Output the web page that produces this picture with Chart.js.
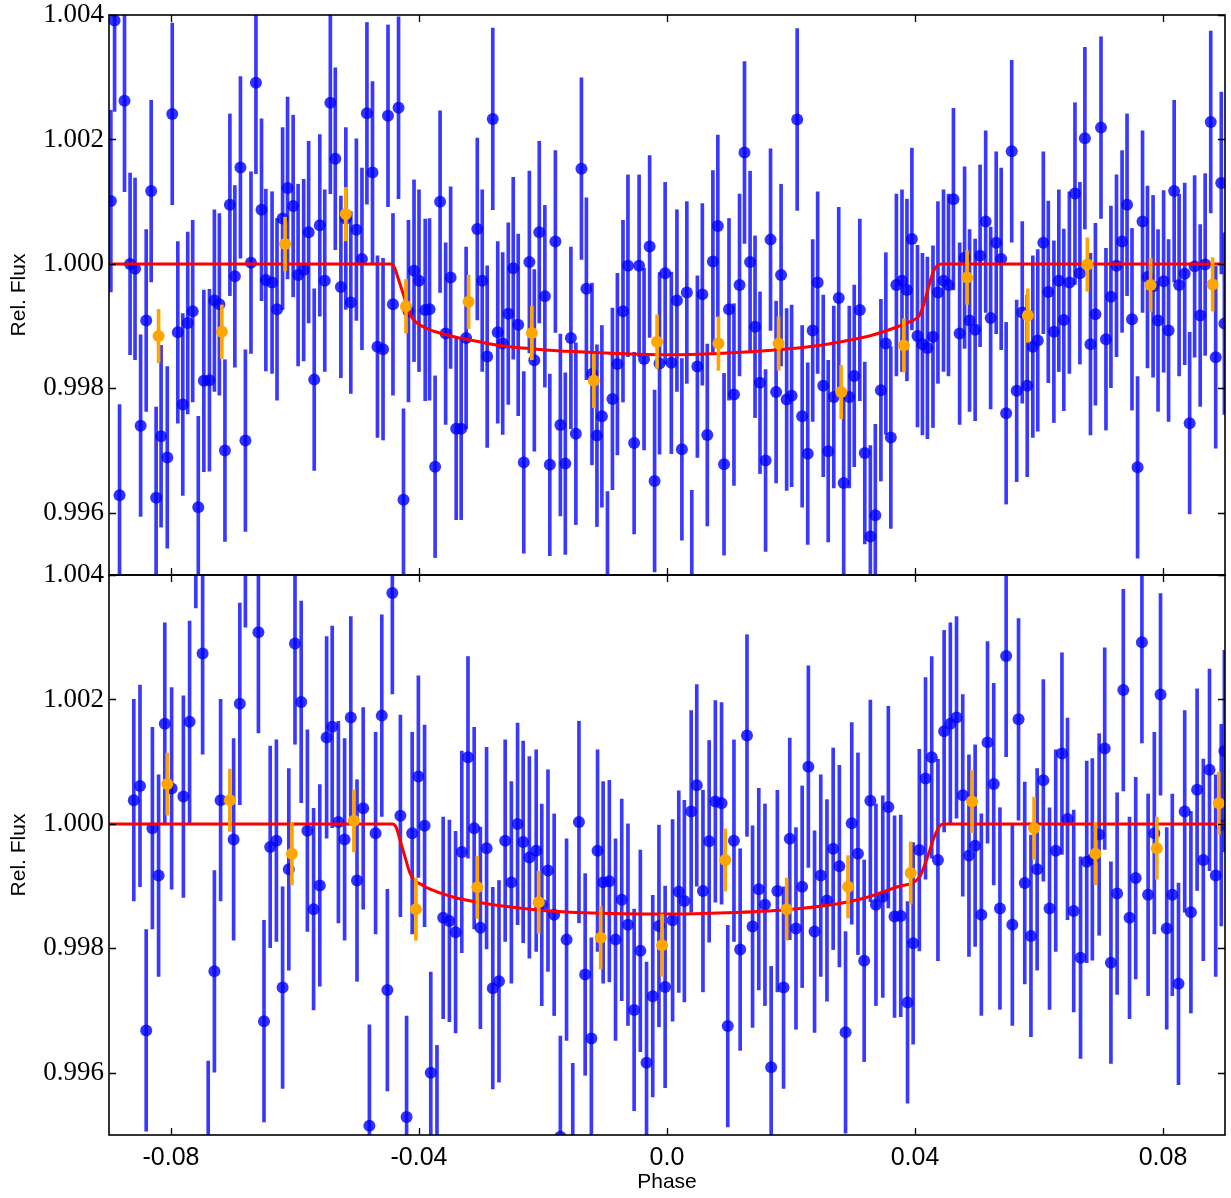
<!DOCTYPE html>
<html><head><meta charset="utf-8">
<script src="https://cdn.jsdelivr.net/npm/chart.js@4.4.0/dist/chart.umd.min.js"></script>
<style>
html,body{margin:0;padding:0;background:#fff;}
#wrap{position:relative;width:1231px;height:1198px;overflow:hidden;background:#fff;}
#c1{position:absolute;left:0;top:0;}
#c2{position:absolute;left:0;top:560px;}
</style></head><body>
<div id="wrap">
<canvas id="c1" width="1231" height="600" style="width:1231px;height:600px"></canvas>
<canvas id="c2" width="1231" height="638" style="width:1231px;height:638px"></canvas>
</div>
<script>
// ---------- tick labels ----------
const xTicks = [-0.08, -0.04, 0.0, 0.04, 0.08];
const xTickLabels = ['-0.08', '-0.04', '0.0', '0.04', '0.08'];
const yTicks = [0.996, 0.998, 1.000, 1.002, 1.004];
const yTickLabels = ['0.996', '0.998', '1.000', '1.002', '1.004'];
const xLabel = 'Phase';
const yLabel = 'Rel. Flux';

// ---------- top panel: unbinned ----------
const topPhase = [
-0.0897,-0.0891,-0.0883,-0.0875,-0.0866,-0.0858,-0.0849,-0.0840,-0.0832,-0.0824,-0.0816,-0.0806,-0.0798,-0.0789,-0.0781,-0.0773,-0.0765,-0.0756,-0.0747,-0.0738,
-0.0730,-0.0722,-0.0713,-0.0705,-0.0697,-0.0688,-0.0680,-0.0671,-0.0663,-0.0654,-0.0647,-0.0637,-0.0629,-0.0620,-0.0612,-0.0603,-0.0595,-0.0586,-0.0578,-0.0569,
-0.0560,-0.0552,-0.0543,-0.0535,-0.0526,-0.0518,-0.0510,-0.0501,-0.0492,-0.0484,-0.0475,-0.0467,-0.0458,-0.0450,-0.0442,
-0.0433,-0.0425,-0.0417,-0.0408,-0.0400,-0.0390,-0.0383,-0.0374,-0.0366,-0.0357,-0.0349,-0.0340,-0.0332,-0.0324,-0.0306,-0.0298,-0.0290,-0.0281,-0.0273,-0.0265,
-0.0256,-0.0248,-0.0240,-0.0231,-0.0222,-0.0214,-0.0206,-0.0197,-0.0189,-0.0180,-0.0172,-0.0164,-0.0155,-0.0147,-0.0138,-0.0130,-0.0121,-0.0113,-0.0105,-0.0096,
-0.0088,-0.0080,-0.0071,-0.0063,-0.0053,-0.0045,-0.0037,-0.0028,-0.0020,-0.0012,-0.0003,
0.0007,0.0016,0.0024,0.0032,0.0040,0.0049,0.0057,0.0065,0.0074,0.0082,0.0092,0.0100,0.0108,0.0117,0.0125,0.0134,0.0142,0.0150,0.0159,0.0167,
0.0176,0.0184,0.0193,0.0201,0.0210,0.0218,0.0227,0.0235,0.0243,0.0252,0.0260,0.0269,0.0277,0.0285,0.0294,0.0302,0.0311,0.0319,0.0328,0.0336,
0.0345,0.0353,0.0361,0.0370,0.0379,0.0387,0.0395,0.0404,0.0412,0.0420,0.0429,0.0437,0.0446,0.0454,0.0462,
0.0472,0.0480,0.0488,0.0497,0.0505,0.0514,0.0522,0.0531,0.0539,0.0547,0.0556,0.0564,0.0573,0.0581,0.0590,0.0598,0.0607,0.0615,0.0624,0.0632,
0.0640,0.0649,0.0658,0.0666,0.0674,0.0683,0.0691,0.0700,0.0708,0.0716,0.0725,0.0734,0.0742,0.0750,0.0759,0.0767,0.0775,0.0784,0.0792,0.0801,
0.0809,0.0818,0.0826,0.0835,0.0843,0.0851,0.0860,0.0868,0.0877,0.0885,0.0894,0.0899
];
const topFlux = [
1.00101,1.00391,0.99628,1.00262,1.00000,0.99992,0.99740,0.99909,1.00117,0.99624,0.99723,0.99689,1.00241,0.99890,0.99774,0.99905,0.99924,0.99609,0.99812,0.99813,
0.99941,0.99935,0.99700,1.00095,0.99980,1.00155,0.99716,1.00002,1.00291,1.00087,0.99974,0.99970,0.99927,1.00073,1.00122,1.00093,0.99982,0.99990,1.00051,0.99814,
1.00062,0.99973,1.00259,1.00169,0.99963,1.00073,0.99938,1.00055,1.00008,1.00242,1.00147,0.99867,0.99863,1.00238,0.99935,
1.00251,0.99621,0.99924,0.99989,0.99973,0.99926,0.99927,0.99674,1.00100,0.99888,0.99978,0.99735,0.99735,0.99881,1.00056,0.99973,0.99851,1.00233,0.99890,0.99872,
0.99920,0.99993,0.99902,0.99681,1.00003,0.99845,1.00051,0.99948,0.99677,1.00036,0.99741,0.99679,0.99881,0.99727,1.00153,0.99960,0.99823,0.99724,0.99755,0.99488,
0.99783,0.99839,0.99924,0.99997,0.99712,0.99997,0.99847,1.00028,0.99651,0.99840,0.99985,
0.99841,0.99941,0.99702,0.99954,0.99490,0.99835,0.99951,0.99725,1.00004,1.00061,0.99678,0.99927,0.99790,0.99966,1.00179,1.00003,0.99899,0.99809,0.99684,1.00039,
0.99794,0.99982,0.99782,0.99788,1.00232,0.99755,0.99695,0.99893,0.99970,0.99804,0.99699,0.99786,0.99945,0.99648,0.99786,0.99820,0.99926,0.99696,0.99562,0.99596,
0.99797,0.99872,0.99721,0.99966,0.99973,0.99958,1.00040,0.99884,0.99871,0.99865,0.99883,0.99954,0.99973,0.99966,1.00104,
0.99888,1.00010,0.99909,0.99894,1.00013,1.00068,0.99913,1.00034,1.00008,0.99760,1.00181,0.99796,0.99922,0.99804,0.99867,0.99877,1.00034,0.99955,0.99891,0.99973,
0.99910,0.99970,1.00113,0.99985,1.00202,0.99871,0.99919,1.00219,0.99879,0.99947,0.99997,1.00036,1.00095,0.99911,0.99673,1.00068,0.99979,0.99964,0.99909,0.99972,
0.99893,1.00117,0.99966,0.99984,0.99744,0.99996,0.99917,0.99999,1.00228,0.99850,1.00130,0.99904
];
const topErr = 0.00146;

// ---------- top panel: binned ----------
const topBinPhase = [-0.0820,-0.0718,-0.0616,-0.0518,-0.0421,-0.0320,-0.0218,-0.0118,-0.0016,0.0083,0.0180,0.0281,0.0382,0.0484,0.0582,0.0678,0.0780,0.0880];
const topBinFlux  = [0.99884,0.99891,1.00032,1.00080,0.99932,0.99939,0.99889,0.99812,0.99875,0.99872,0.99872,0.99794,0.99869,0.99978,0.99917,0.99999,0.99966,0.99967];
const topBinErr = 0.00043;

// ---------- top panel: model ----------
const topModelPhase = [-0.0900,-0.0445,-0.0440,-0.0433,-0.0425,-0.0418,-0.0411,-0.0403,-0.0390,-0.0360,-0.0320,-0.0270,-0.0210,-0.0150,-0.0080,0.0000,
  0.0083,0.0180,0.0238,0.0281,0.0329,0.0372,0.0394,0.0407,0.0415,0.0423,0.0431,0.0437,0.0442,0.0900];
const topModelFlux = [1.00000,1.00000,0.99995,0.99975,0.99950,0.99928,0.99913,0.99905,0.99897,0.99887,0.99878,0.99869,0.99863,0.99859,0.99856,0.99854,
  0.99856,0.99862,0.99868,0.99875,0.99885,0.99899,0.99908,0.99917,0.99938,0.99967,0.99991,0.99998,1.00000,1.00000];

// ---------- bottom panel: unbinned ----------
const botPhase = [
-0.0860,-0.0850,-0.0840,-0.0830,-0.0820,-0.0810,-0.0799,-0.0780,-0.0770,-0.0760,-0.0749,-0.0740,-0.0730,-0.0720,-0.0699,-0.0689,-0.0680,-0.0659,-0.0650,-0.0640,
-0.0630,-0.0620,-0.0610,-0.0600,-0.0590,-0.0580,-0.0570,-0.0560,-0.0549,-0.0540,-0.0530,-0.0520,-0.0510,-0.0500,-0.0490,-0.0480,-0.0470,-0.0460,-0.0451,-0.0443,
-0.0430,-0.0420,-0.0411,-0.0401,-0.0391,-0.0381,-0.0371,-0.0361,-0.0351,-0.0341,-0.0331,-0.0321,-0.0311,-0.0301,-0.0291,-0.0281,-0.0271,-0.0261,-0.0251,-0.0241,
-0.0232,-0.0222,-0.0211,-0.0202,-0.0192,-0.0182,-0.0172,-0.0162,-0.0152,-0.0142,-0.0132,-0.0122,-0.0112,-0.0103,-0.0093,-0.0083,-0.0073,-0.0063,-0.0053,-0.0043,
-0.0033,-0.0023,-0.0013,-0.0003,
0.0009,0.0019,0.0028,0.0039,0.0048,0.0058,0.0068,0.0078,0.0088,0.0098,0.0108,0.0118,0.0129,0.0138,0.0148,0.0158,0.0168,0.0178,0.0188,0.0198,
0.0208,0.0218,0.0228,0.0238,0.0248,0.0258,0.0268,0.0278,0.0288,0.0298,0.0308,0.0318,0.0328,0.0337,0.0348,0.0357,0.0367,0.0377,0.0388,0.0397,
0.0407,0.0417,0.0427,0.0437,0.0447,0.0457,0.0467,
0.0477,0.0487,0.0497,0.0507,0.0517,0.0527,0.0537,0.0547,0.0557,0.0567,0.0577,0.0587,0.0597,0.0607,0.0617,0.0627,0.0637,0.0646,0.0656,0.0667,
0.0677,0.0686,0.0697,0.0706,0.0716,0.0726,0.0736,0.0746,0.0756,0.0766,0.0776,0.0786,0.0796,0.0806,0.0815,0.0825,0.0835,0.0845,0.0855,0.0865,
0.0875,0.0885,0.0894,0.0899
];
const botFlux = [
1.00038,1.00061,0.99668,0.99993,0.99917,1.00161,1.00057,1.00044,1.00164,1.00509,1.00274,0.99457,0.99763,1.00038,0.99975,1.00193,1.00478,1.00308,0.99683,0.99963,
0.99973,0.99737,0.99927,1.00290,1.00196,0.99989,0.99863,0.99901,1.00139,1.00156,1.00003,0.99975,1.00171,0.99909,1.00025,0.99515,0.99985,1.00174,0.99733,1.00371,
1.00013,0.99529,0.99985,1.00076,0.99997,0.99600,0.99482,0.99849,0.99844,0.99826,0.99955,1.00107,0.99993,0.99833,0.99961,0.99736,0.99747,0.99973,0.99906,1.00000,
0.99971,0.99946,0.99957,0.99870,0.99925,0.99854,0.99497,0.99814,0.99453,1.00003,0.99758,0.99655,0.99957,0.99906,0.99908,0.99814,0.99878,0.99838,0.99701,0.99796,
0.99616,0.99723,0.99836,0.99738,
0.99845,0.99891,0.99876,1.00020,1.00062,0.99892,0.99972,1.00036,1.00033,0.99675,0.99973,0.99798,1.00142,0.99835,0.99895,0.99870,0.99609,0.99892,0.99737,0.99976,
0.99832,0.99899,1.00092,0.99827,0.99917,0.99877,0.99960,0.99932,0.99665,1.00001,0.99952,0.99780,1.00037,0.99870,0.99883,1.00027,0.99851,0.99852,0.99713,0.99808,
0.99958,1.00073,1.00107,0.99942,1.00149,1.00161,1.00171,
1.00046,0.99949,0.99965,0.99854,1.00131,1.00064,0.99864,1.00270,0.99838,1.00168,0.99905,0.99820,0.99927,1.00070,0.99864,0.99957,1.00113,1.00008,0.99860,0.99785,
0.99939,0.99943,0.99983,1.00121,0.99777,0.99888,1.00215,0.99849,0.99913,1.00292,0.99886,0.99985,1.00208,0.99832,0.99886,0.99743,1.00020,0.99858,1.00055,0.99942,
1.00087,0.99917,0.99998,1.00117
];
const botErr = 0.00162;

// ---------- bottom panel: binned ----------
const botBinPhase = [-0.0806,-0.0705,-0.0605,-0.0505,-0.0405,-0.0306,-0.0207,-0.0107,-0.0008,0.0094,0.0193,0.0292,0.0393,0.0492,0.0592,0.0691,0.0790,0.0890];
const botBinFlux  = [1.00064,1.00038,0.99952,1.00005,0.99863,0.99898,0.99874,0.99817,0.99805,0.99942,0.99863,0.99899,0.99921,1.00036,0.99993,0.99952,0.99961,1.00033];
const botBinErr = 0.00050;

// ---------- bottom panel: model ----------
const botModelPhase = [-0.0900,-0.0443,-0.0437,-0.0430,-0.0422,-0.0415,-0.0408,-0.0395,-0.0384,-0.0347,-0.0293,-0.0213,-0.0133,0.0000,
  0.0096,0.0193,0.0265,0.0319,0.0372,0.0407,0.0414,0.0420,0.0431,0.0441,0.0446,0.0900];
const botModelFlux = [1.00000,1.00000,0.99995,0.99972,0.99945,0.99922,0.99910,0.99902,0.99896,0.99883,0.99872,0.99862,0.99857,0.99855,
  0.99857,0.99862,0.99870,0.99881,0.99899,0.99914,0.99930,0.99946,0.99979,0.99998,1.00000,1.00000];

const X_MIN = -0.09, X_MAX = 0.09, Y_MIN = 0.995, Y_MAX = 1.004;

const framePlugin = {
  id: 'frame',
  afterDraw(chart) {
    const {ctx, chartArea: a, scales} = chart;
    const xs = scales.x, ys = scales.y;
    ctx.save();
    ctx.strokeStyle = '#000';
    ctx.lineWidth = 1.6;
    ctx.strokeRect(a.left, a.top, a.right - a.left, a.bottom - a.top);
    ctx.lineWidth = 1.3;
    const L = 7;
    ctx.beginPath();
    xTicks.forEach(v => {
      const px = Math.round(xs.getPixelForValue(v)) + 0.5;
      ctx.moveTo(px, a.bottom); ctx.lineTo(px, a.bottom - L);
      ctx.moveTo(px, a.top); ctx.lineTo(px, a.top + L);
    });
    yTicks.forEach(v => {
      const py = Math.round(ys.getPixelForValue(v)) + 0.5;
      ctx.moveTo(a.left, py); ctx.lineTo(a.left + L, py);
      ctx.moveTo(a.right, py); ctx.lineTo(a.right - L, py);
    });
    ctx.stroke();
    ctx.restore();
  }
};

function errBars(ph, fl, err) {
  return ph.map((p, i) => ({x: p, y: [fl[i] - err, fl[i] + err]}));
}
function pts(ph, fl) {
  return ph.map((p, i) => ({x: p, y: fl[i]}));
}

function makeChart(canvas, d, showX) {
  return new Chart(canvas, {
    type: 'scatter',
    data: {
      datasets: [
        {type: 'bar', data: errBars(d.ph, d.fl, d.err), backgroundColor: 'rgba(0,0,255,0.78)', borderWidth: 0,
         barThickness: 3, grouped: false, order: 5, clip: 0},
        {type: 'scatter', data: pts(d.ph, d.fl), backgroundColor: 'rgba(0,0,255,0.8)', borderWidth: 0,
         pointRadius: 6, pointHoverRadius: 6, order: 4, clip: 0},
        {type: 'line', data: pts(d.mph, d.mfl), borderColor: '#ff0000', borderWidth: 3, pointRadius: 0,
         cubicInterpolationMode: 'monotone', fill: false, order: 3, clip: 0},
        {type: 'bar', data: errBars(d.bph, d.bfl, d.berr), backgroundColor: '#ffa500', borderWidth: 0,
         barThickness: 3, grouped: false, order: 2, clip: 0},
        {type: 'scatter', data: pts(d.bph, d.bfl), backgroundColor: '#ffa500', borderWidth: 0,
         pointRadius: 6, pointHoverRadius: 6, order: 1, clip: 0}
      ]
    },
    options: {
      responsive: false,
      animation: false,
      events: [],
      devicePixelRatio: 1,
      layout: {padding: {left: 0, right: 5, top: 15, bottom: showX ? 0 : 25}},
      plugins: {legend: {display: false}, tooltip: {enabled: false}},
      scales: {
        x: {
          type: 'linear', min: X_MIN, max: X_MAX, offset: false, display: showX,
          grid: {display: false, drawTicks: false, offset: false},
          border: {display: false},
          afterBuildTicks: s => { s.ticks = xTicks.map(v => ({value: v})); },
          afterFit: s => { s.height = showX ? 63 : 0; s.paddingLeft = 0; s.paddingRight = 0; },
          ticks: {
            color: '#000', padding: 8, maxRotation: 0, autoSkip: false,
            font: {family: "'Liberation Sans', Arial, sans-serif", size: 25},
            callback: (v, i) => xTickLabels[i]
          },
          title: {display: true, text: xLabel, color: '#000', padding: {top: 0, bottom: 3},
                  font: {family: "'Liberation Sans', Arial, sans-serif", size: 21}}
        },
        y: {
          type: 'linear', min: Y_MIN, max: Y_MAX, beginAtZero: false,
          grid: {display: false, drawTicks: false},
          border: {display: false},
          afterBuildTicks: s => { s.ticks = yTicks.map(v => ({value: v})); },
          afterFit: s => { s.width = 109; s.paddingTop = 0; s.paddingBottom = 0; },
          ticks: {
            color: '#000', padding: 5, autoSkip: false,
            font: {family: "'Liberation Serif', 'DejaVu Serif', serif", size: 27},
            callback: (v, i) => yTickLabels[i]
          },
          title: {display: true, text: yLabel, color: '#000', padding: {top: 7, bottom: 0},
                  font: {family: "'Liberation Sans', Arial, sans-serif", size: 21}}
        }
      }
    },
    plugins: [framePlugin]
  });
}

makeChart(document.getElementById('c1'), {
  ph: topPhase, fl: topFlux, err: topErr,
  bph: topBinPhase, bfl: topBinFlux, berr: topBinErr,
  mph: topModelPhase, mfl: topModelFlux
}, false);

makeChart(document.getElementById('c2'), {
  ph: botPhase, fl: botFlux, err: botErr,
  bph: botBinPhase, bfl: botBinFlux, berr: botBinErr,
  mph: botModelPhase, mfl: botModelFlux
}, true);
</script>
</body></html>
